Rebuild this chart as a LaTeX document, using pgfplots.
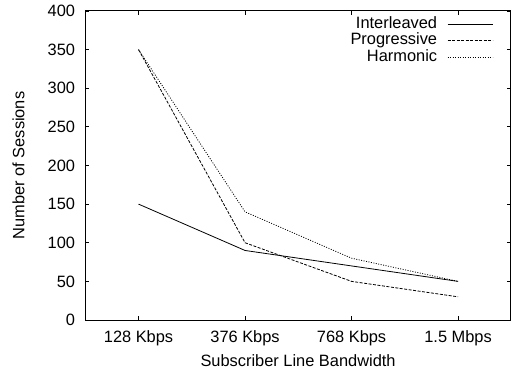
\documentclass[border=0pt]{standalone}
\usepackage{pgfplots}
\pgfplotsset{compat=1.18}
\usepackage{fontspec}
\setmainfont{Liberation Sans}
\usetikzlibrary{calc}
\begin{document}
\fontsize{16.4bp}{19.7bp}\selectfont
\begin{tikzpicture}
\begin{axis}[
  scale only axis,
  width=425.5bp, height=309bp,
  xmin=-0.5, xmax=3.495,
  ymin=0, ymax=400,
  xtick={0,1,2,3},
  xticklabels={128 Kbps,376 Kbps,768 Kbps,1.5 Mbps},
  ytick={0,50,...,400},
  /pgf/number format/assume math mode=true,
  axis line style={line width=1bp},
  every tick/.style={line width=0.8bp, black},
  major tick length=4bp,
  tick align=inside,
  xticklabel style={anchor=base, inner sep=0pt, yshift=-22bp},
  yticklabel style={anchor=east, inner sep=0pt, xshift=-10bp},
  xlabel={Subscriber Line Bandwidth},
  ylabel={Number of Sessions},
  xlabel style={at={(axis description cs:0.5,-0.1489)}, anchor=base, inner sep=0pt},
  ylabel style={at={(axis description cs:-0.1434,0.5)}, anchor=base, inner sep=0pt},
  legend plot pos=right,
  legend cell align=right,
  legend image code/.code={\draw[#1] (0bp,0bp) -- (45bp,0bp);},
  legend style={draw=none, fill=none, at={(axis description cs:0.958,0.980)}, anchor=north east,
    inner sep=0pt, outer sep=0pt, row sep=2.7bp, column sep=10bp,
    nodes={inner sep=0pt, text height=11bp, text depth=3bp}},
]
\addplot[black, line width=0.8bp] coordinates {(0,150) (1,90) (2,70) (3,50)};
\addlegendentry{Interleaved}
\addplot[black, line width=0.8bp, dash pattern=on 3bp off 1.5bp] coordinates {(0,350) (1,100) (2,50) (3,30)};
\addlegendentry{Progressive}
\addplot[black, line width=0.8bp, dash pattern=on 1bp off 1.5bp] coordinates {(0,350) (1,140) (2,80) (3,50)};
\addlegendentry{Harmonic}
\end{axis}
\pgfresetboundingbox
\path[use as bounding box] ($(current axis.south west)+(-85.3bp,-52bp)$) rectangle ($(current axis.north east)+(0.2bp,11bp)$);
\end{tikzpicture}
\end{document}
